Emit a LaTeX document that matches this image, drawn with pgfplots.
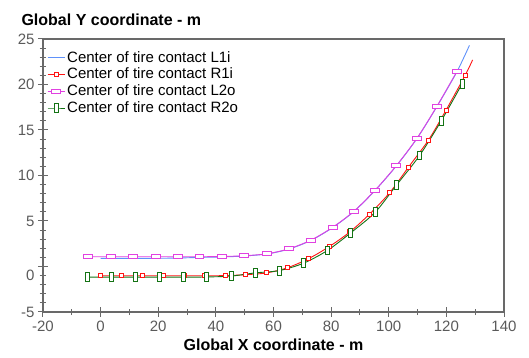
\documentclass[border=0pt]{standalone}
\usepackage{pgfplots}
\pgfplotsset{compat=1.18}
\usepackage{fontspec}
\setmainfont{Liberation Sans}
\definecolor{cBlue}{RGB}{95,145,250}
\definecolor{cRed}{RGB}{255,20,20}
\definecolor{cMag}{RGB}{225,65,225}
\definecolor{cGreen}{RGB}{20,115,20}
\definecolor{cAxis}{RGB}{105,105,105}
\definecolor{cTick}{RGB}{90,90,90}
\newcommand{\lowlab}[1]{\raisebox{-9pt}[\height][\depth]{#1}}
\begin{document}
\begin{tikzpicture}
\useasboundingbox (-43pt,-46pt) rectangle (486pt,312pt);
\begin{axis}[
  at={(0,0)}, anchor=south west,
  scale only axis, width=461pt, height=273pt,
  xmin=-20, xmax=140, ymin=-5, ymax=25,
  xtick={-20,0,...,140}, ytick={-5,0,...,25},
  minor x tick num=1, minor y tick num=4,
  tick pos=left, tick align=center,
  major tick length=10pt, minor tick length=6.5pt,
  axis line style={cAxis, line width=1.2pt},
  every tick/.style={cAxis, line width=1pt},
  tick label style={font=\fontsize{15}{18}\selectfont, text=cTick},
  /pgf/number format/assume math mode=true,
  yticklabel={\ifnum\ticknum=1 \lowlab{\pgfmathprintnumber{\tick}}\else\pgfmathprintnumber{\tick}\fi},
  xlabel={Global X coordinate - m},
  ylabel={Global Y coordinate - m},
  every axis x label/.style={at={(rel axis cs:0.5,0)}, anchor=base, yshift=-38pt, font=\fontsize{16}{19}\selectfont\bfseries},
  every axis y label/.style={at={(rel axis cs:0,1)}, anchor=base west, xshift=-25pt, yshift=13pt, font=\fontsize{16}{19}\selectfont\bfseries},
  legend style={draw=none, fill=none, at={(rel axis cs:0,1)}, anchor=north west, xshift=4pt, yshift=-10pt, font=\fontsize{15}{17}\selectfont, row sep=0.5pt, inner sep=0pt},
  legend cell align=left,
  legend entries={Center of tire contact L1i, Center of tire contact R1i, Center of tire contact L2o, Center of tire contact R2o},
]
\addlegendimage{cBlue, line width=0.9pt}
\addlegendimage{cRed, line width=0.9pt, mark=square*, mark size=2pt, mark options={fill=white, line width=0.9pt}}
\addlegendimage{cMag, line width=0.9pt, mark=square*, mark size=2pt, mark options={fill=white, line width=0.9pt, xscale=2.2}}
\addlegendimage{cGreen, line width=0.9pt, mark=square*, mark size=2pt, mark options={fill=white, line width=0.9pt, yscale=2.2}}

% L1i
\addplot[cBlue, line width=0.9pt, smooth, forget plot] coordinates {
(0,0.9)(3.6,0.9)(11.1,0.9)(19.1,0.9)(26.8,0.93)(34.3,1.0)(42.2,1.05)(49.7,1.15)(57.8,1.38)(65.4,1.92)(73.0,2.87)(80.5,4.27)(88.0,6.07)(95.3,8.37)(102.6,11.04)(109.8,14.07)(116.7,17.57)(123.6,21.37)(128.0,24.3)};
% R1i line
\addplot[cRed, line width=0.9pt, smooth, forget plot] coordinates {
(0,-1.02)(7.3,-1.02)(14.5,-1.02)(21.8,-1.02)(29.0,-1.02)(36.1,-1.02)(43.3,-1.0)(50.4,-0.9)(57.7,-0.7)(64.8,-0.14)(72.1,0.85)(79.4,2.2)(86.5,3.8)(93.3,5.75)(100.3,8.1)(106.8,10.9)(113.8,13.9)(119.9,17.2)(126.5,21.0)(129.1,22.7)};
% L2o line
\addplot[cMag, line width=0.9pt, smooth, forget plot] coordinates {
(-4.3,1.07)(3.6,1.07)(11.1,1.07)(19.1,1.07)(26.8,1.07)(34.3,1.07)(42.2,1.1)(49.7,1.18)(57.8,1.4)(65.4,1.95)(73.0,2.9)(80.5,4.3)(88.0,6.1)(95.3,8.4)(102.6,11.07)(109.8,14.1)(116.7,17.6)(123.6,21.4)};
% R2o line
\addplot[cGreen, line width=0.9pt, smooth, forget plot] coordinates {
(-4.4,-1.17)(3.85,-1.17)(12.2,-1.17)(20.4,-1.17)(28.6,-1.17)(36.8,-1.15)(45.4,-1.05)(53.7,-0.7)(62.0,-0.45)(70.4,0.36)(78.7,1.76)(86.8,3.7)(95.3,5.97)(102.8,9.0)(110.7,12.2)(118.2,16.0)(125.5,20.1)};
% markers
\addplot[only marks, cRed, mark=square*, mark size=2pt, mark options={fill=white, line width=0.9pt}, forget plot] coordinates {
(0,-1.02)(7.3,-1.02)(14.5,-1.02)(21.8,-1.02)(29.0,-1.02)(36.1,-1.02)(43.3,-1.0)(50.4,-0.9)(57.7,-0.7)(64.8,-0.14)(72.1,0.85)(79.4,2.2)(86.5,3.8)(93.3,5.75)(100.3,8.1)(106.8,10.9)(113.8,13.9)(119.9,17.2)(126.5,21.0)};
\addplot[only marks, cMag, mark=square*, mark size=2pt, mark options={fill=white, line width=0.9pt, xscale=2.2}, forget plot] coordinates {
(-4.3,1.07)(3.6,1.07)(11.1,1.07)(19.1,1.07)(26.8,1.07)(34.3,1.07)(42.2,1.1)(49.7,1.18)(57.8,1.4)(65.4,1.95)(73.0,2.9)(80.5,4.3)(88.0,6.1)(95.3,8.4)(102.6,11.07)(109.8,14.1)(116.7,17.6)(123.6,21.4)};
\addplot[only marks, cGreen, mark=square*, mark size=2pt, mark options={fill=white, line width=0.9pt, yscale=2.2}, forget plot] coordinates {
(-4.4,-1.17)(3.85,-1.17)(12.2,-1.17)(20.4,-1.17)(28.6,-1.17)(36.8,-1.15)(45.4,-1.05)(53.7,-0.7)(62.0,-0.45)(70.4,0.36)(78.7,1.76)(86.8,3.7)(95.3,5.97)(102.8,9.0)(110.7,12.2)(118.2,16.0)(125.5,20.1)};
\end{axis}
\end{tikzpicture}
\end{document}
